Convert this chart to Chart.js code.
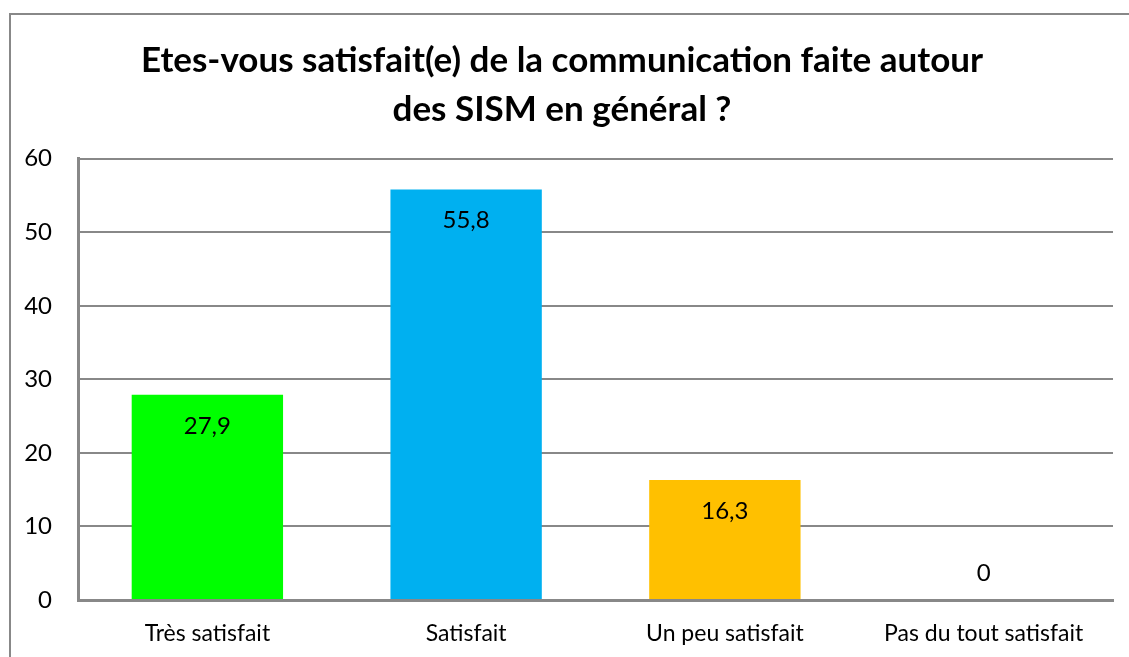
<!DOCTYPE html>
<html>
<head>
<meta charset="utf-8">
<script src="https://cdn.jsdelivr.net/npm/chart.js@4"></script>
<style>
  html, body { margin: 0; padding: 0; background: #fff; overflow: hidden; }
  #frame {
    position: absolute; left: 9px; top: 13px;
    width: 1140px; height: 660px;
    border: 2px solid #888;
  }
  #wrap { position: absolute; left: 11px; top: 15px; width: 1130px; height: 642px; }
</style>
</head>
<body>
<div id="frame"></div>
<div id="wrap"><canvas id="graph"></canvas></div>
<script>
const titleLines = ['Etes-vous satisfait(e) de la communication faite autour', 'des SISM en général ?'];
const categories = ['Très satisfait', 'Satisfait', 'Un peu satisfait', 'Pas du tout satisfait'];
const values = [27.9, 55.8, 16.3, 0];
const barColors = ['#00ff00', '#00b0f0', '#ffc000', '#a5a5a5'];
const yTicks = [0, 10, 20, 30, 40, 50, 60];

const gridColor = '#888888';
const fontFamily = 'Lato, "Open Sans", sans-serif';

// values inside the top of each bar, like Excel "inside end"
const barLabels = {
  id: 'barLabels',
  afterDatasetsDraw(chart) {
    const c = chart.ctx;
    const meta = chart.getDatasetMeta(0);
    c.save();
    c.font = '24px ' + fontFamily;
    c.fillStyle = '#000';
    c.textAlign = 'center';
    c.textBaseline = 'middle';
    meta.data.forEach((bar, i) => {
      const v = values[i];
      const txt = v.toFixed(v % 1 === 0 ? 0 : 1).replace('.', ',');
      const y = v > 0 ? bar.y + 31 : bar.y - 27;
      c.fillText(txt, bar.x, y);
    });
    c.restore();
  }
};

new Chart(document.getElementById('graph'), {
  type: 'bar',
  data: {
    labels: categories,
    datasets: [{
      data: values,
      backgroundColor: barColors,
      borderWidth: 0,
      barPercentage: 0.585,
      categoryPercentage: 1
    }]
  },
  options: {
    responsive: true,
    maintainAspectRatio: false,
    devicePixelRatio: 1,
    animation: false,
    layout: { padding: { left: 0, right: 28, top: 0, bottom: 0 } },
    plugins: {
      legend: { display: false },
      tooltip: { enabled: false },
      title: {
        display: true,
        text: titleLines,
        color: '#000',
        font: { family: fontFamily, size: 35, weight: 'bold', lineHeight: 1.41 },
        padding: { top: 21, bottom: 24 }
      }
    },
    scales: {
      x: {
        grid: { display: false, drawTicks: false },
        border: { color: gridColor, width: 3 },
        ticks: {
          color: '#000',
          font: { family: fontFamily, size: 23 },
          padding: 20,
          maxRotation: 0,
          minRotation: 0
        },
        afterFit: s => { s.height = 57; }
      },
      y: {
        min: 0,
        max: 60,
        afterBuildTicks: s => { s.ticks = yTicks.map(v => ({ value: v })); },
        grid: { color: gridColor, lineWidth: 2, drawTicks: false },
        border: { color: gridColor, width: 3 },
        ticks: {
          color: '#000',
          font: { family: fontFamily, size: 24 },
          padding: 26
        },
        afterFit: s => { s.width = 67; }
      }
    }
  },
  plugins: [barLabels]
});
</script>
</body>
</html>
